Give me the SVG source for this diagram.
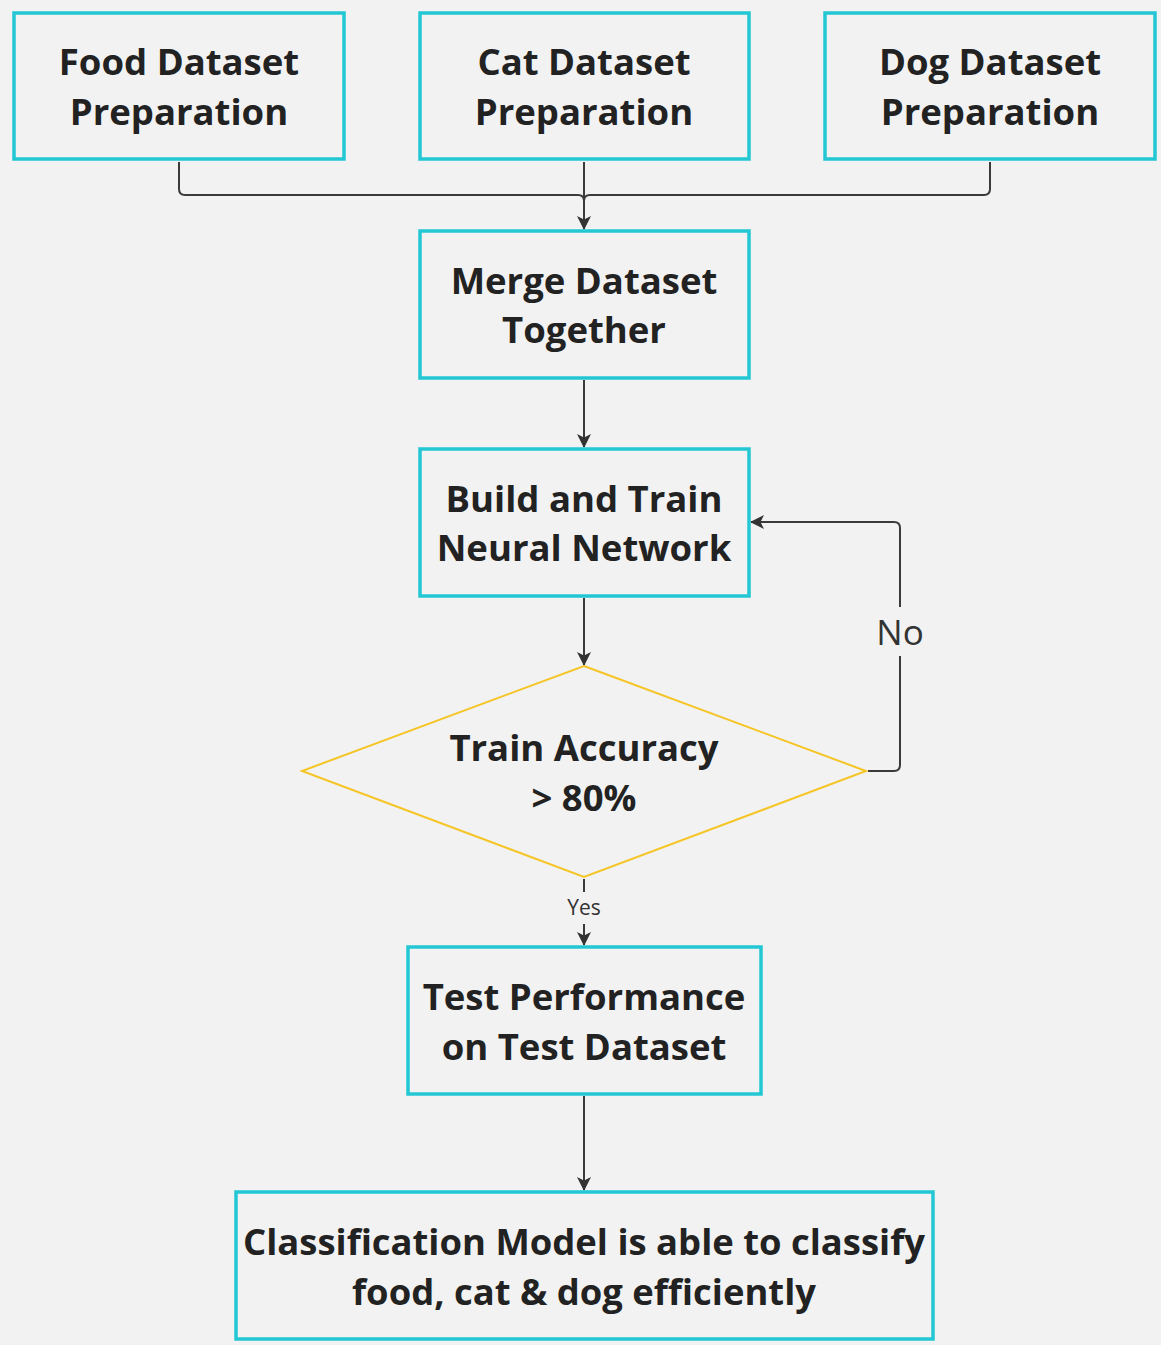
<svg xmlns="http://www.w3.org/2000/svg" width="1161" height="1345" viewBox="0 0 1161 1345">
<defs>
<style>
.box{fill:#f2f2f2;stroke:#22c7d3;stroke-width:3.5}
.dia{fill:#f2f2f2;stroke:#f5c526;stroke-width:2}
.t{font-family:"Open Sans","Liberation Sans",sans-serif;font-weight:700;font-size:36.5px;fill:#222;text-anchor:middle}
.c{fill:none;stroke:#3a3a3a;stroke-width:2}
.lbl{font-family:"Open Sans","Liberation Sans",sans-serif;fill:#333;text-anchor:middle}
</style>
<marker id="ah" viewBox="0 0 14 14" refX="13" refY="7" markerWidth="14" markerHeight="14" markerUnits="userSpaceOnUse" orient="auto">
<path d="M0,0 L14,7 L0,14 L3.5,7 Z" fill="#333"/>
</marker>
</defs>
<rect width="1161" height="1345" fill="#f2f2f2"/>
<g id="connectors">
<path class="c" d="M179,162 V189 Q179,195 185,195 H578 Q584,195 584,201"/>
<path class="c" d="M990,162 V189 Q990,195 984,195 H590 Q584,195 584,201"/>
<path class="c" d="M584,162 V229" marker-end="url(#ah)"/>
<path class="c" d="M584,380 V447" marker-end="url(#ah)"/>
<path class="c" d="M584,598 V665" marker-end="url(#ah)"/>
<path class="c" d="M868,771 H894 Q900,771 900,765 V656"/>
<path class="c" d="M900,607 V528 Q900,522 894,522 H751" marker-end="url(#ah)"/>
<text class="lbl" x="900" y="645" font-size="35">No</text>
<path class="c" d="M584,879 V892"/>
<path class="c" d="M584,924 V945" marker-end="url(#ah)"/>
<text class="lbl" x="584" y="915" font-size="21">Yes</text>
<path class="c" d="M584,1096 V1190" marker-end="url(#ah)"/>
</g>
<g id="food">
<rect class="box" x="14" y="13" width="330" height="146"/>
<text class="t" x="179" y="75">Food Dataset</text>
<text class="t" x="179" y="125">Preparation</text>
</g>
<g id="cat">
<rect class="box" x="420" y="13" width="329" height="146"/>
<text class="t" x="584" y="75">Cat Dataset</text>
<text class="t" x="584" y="125">Preparation</text>
</g>
<g id="dog">
<rect class="box" x="825" y="13" width="330" height="146"/>
<text class="t" x="990" y="75">Dog Dataset</text>
<text class="t" x="990" y="125">Preparation</text>
</g>
<g id="merge">
<rect class="box" x="420" y="231" width="329" height="147"/>
<text class="t" x="584" y="294">Merge Dataset</text>
<text class="t" x="584" y="343">Together</text>
</g>
<g id="build">
<rect class="box" x="420" y="449" width="329" height="147"/>
<text class="t" x="584" y="512">Build and Train</text>
<text class="t" x="584" y="561">Neural Network</text>
</g>
<g id="decision">
<polygon class="dia" points="584,666 866,771 584,877 302,771"/>
<text class="t" x="584" y="761">Train Accuracy</text>
<text class="t" x="584" y="811">&gt; 80%</text>
</g>
<g id="test">
<rect class="box" x="408" y="947" width="353" height="147"/>
<text class="t" x="584" y="1010">Test Performance</text>
<text class="t" x="584" y="1060">on Test Dataset</text>
</g>
<g id="result">
<rect class="box" x="236" y="1192" width="697" height="147"/>
<text class="t" x="584" y="1255" textLength="682" lengthAdjust="spacingAndGlyphs">Classification Model is able to classify</text>
<text class="t" x="584" y="1305" textLength="464" lengthAdjust="spacingAndGlyphs">food, cat &amp; dog efficiently</text>
</g>
</svg>
